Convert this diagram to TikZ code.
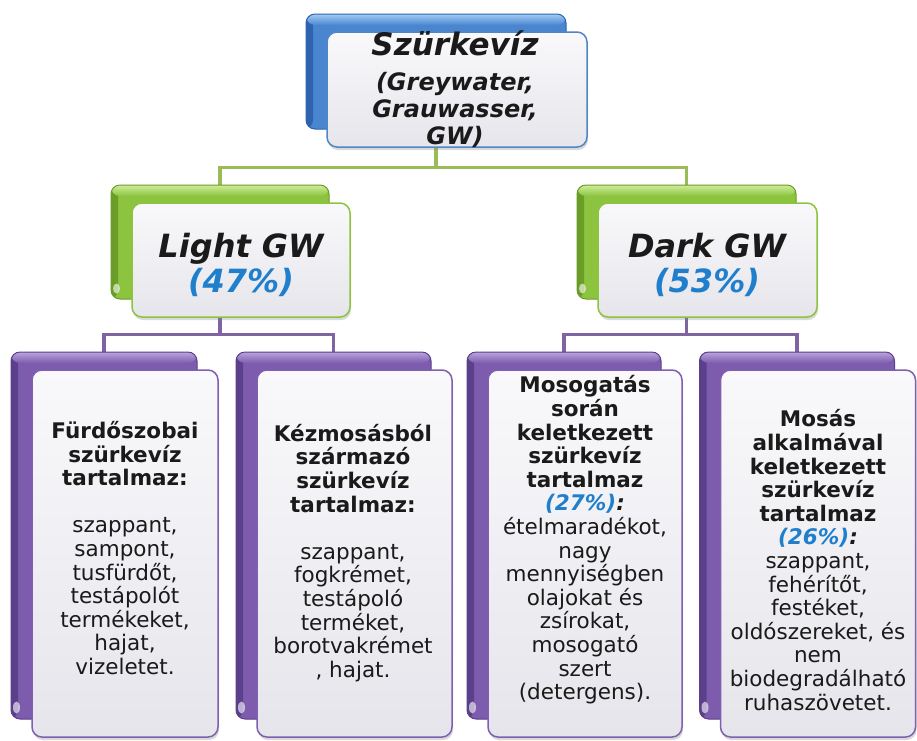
\documentclass[tikz,border=0pt]{standalone}
\usepackage{fontspec}
\setmainfont{DejaVu Sans}
\usetikzlibrary{shadows,calc,backgrounds}
\definecolor{blueL}{HTML}{A2CCF3}
\definecolor{blueM}{HTML}{4A86D0}
\definecolor{blueD}{HTML}{2E62AE}
\definecolor{blueB}{HTML}{4F86C6}
\definecolor{greenL}{HTML}{D0EE9A}
\definecolor{greenM}{HTML}{8CC43F}
\definecolor{greenD}{HTML}{6A9C28}
\definecolor{greenB}{HTML}{8CC43F}
\definecolor{greenLine}{HTML}{9BBB59}
\definecolor{purpL}{HTML}{BBA3DE}
\definecolor{purpM}{HTML}{7D5CAE}
\definecolor{purpD}{HTML}{5A3F8A}
\definecolor{purpB}{HTML}{7E5FB0}
\definecolor{purpLine}{HTML}{8064A2}
\definecolor{frontT}{HTML}{F9F9FB}
\definecolor{frontB}{HTML}{E6E5EB}
\definecolor{pct}{HTML}{1F7FCC}
\definecolor{txt}{HTML}{1A1A1A}
\begin{document}
\begin{tikzpicture}[x=1pt,y=-1pt,
  backbox/.style n args={3}{rounded corners=9pt, line width=1pt, inner sep=0pt,
    draw=#3, fill=#2,
    path picture={
      \shade[left color=#3, right color=#2]
        (path picture bounding box.north west) rectangle
        ([xshift=7pt]path picture bounding box.south west);
      \shade[top color=#1, bottom color=#2]
        (path picture bounding box.north west) rectangle
        ([yshift=-11pt]path picture bounding box.north east);
    }},
  bluetab/.style={backbox={blueL}{blueM}{blueD}},
  greentab/.style={backbox={greenL}{greenM}{greenD}},
  purptab/.style={backbox={purpL}{purpM}{purpD}},
  frontbox/.style={rounded corners=10pt, line width=1.5pt, inner sep=0pt,
    top color=frontT, bottom color=frontB,
    drop shadow={shadow xshift=1pt, shadow yshift=-3pt, opacity=0.3}},
  gline/.style={draw=greenLine, line width=3.5pt},
  pline/.style={draw=purpLine, line width=3.5pt},
  curl/.style={fill=white, opacity=0.6},
  roottitle/.style={font=\fontsize{31}{35}\selectfont\bfseries\itshape, text=txt, inner sep=0pt},
  rootsub/.style={font=\fontsize{24}{27}\selectfont\bfseries\itshape, text=txt, inner sep=0pt, align=center},
  midtitle/.style={font=\fontsize{32}{35}\selectfont\bfseries\itshape, text=txt, inner sep=0pt},
  midpct/.style={font=\fontsize{32}{35}\selectfont\bfseries\itshape, text=pct, inner sep=0pt},
  leaftext/.style={font=\fontsize{21.5}{23.6}\selectfont, text=txt, inner sep=0pt, align=center}
]
\useasboundingbox (0,0) rectangle (917,740);

% root
\node[bluetab, minimum width=260pt, minimum height=115pt] (rootback) at (436,71.5) {};
\node[frontbox, draw=blueB, minimum width=260pt, minimum height=115pt] (root) at (457,89.5) {};
\node[roottitle, anchor=base] (roottxt) at (455,55) {Szürkevíz};
\node[rootsub] (rootsubtxt) at (455,110) {(Greywater,\\Grauwasser,\\GW)};

% level 2
\node[greentab, minimum width=218pt, minimum height=114pt] (lightback) at (220,242) {};
\fill[curl] ($(lightback.south west)+(6,-11)$) ellipse [x radius=3.5pt, y radius=5pt];
\node[frontbox, draw=greenB, minimum width=218pt, minimum height=114pt] (light) at (241,260) {};
\node[midtitle, anchor=base] (lighttxt) at (241,257) {Light GW};
\node[midpct, anchor=base] (lightpct) at (241,292) {(47\%)};

\node[greentab, minimum width=219pt, minimum height=114pt] (darkback) at (686.5,242) {};
\fill[curl] ($(darkback.south west)+(6,-11)$) ellipse [x radius=3.5pt, y radius=5pt];
\node[frontbox, draw=greenB, minimum width=219pt, minimum height=114pt] (dark) at (707.5,260) {};
\node[midtitle, anchor=base] (darktxt) at (707,257) {Dark GW};
\node[midpct, anchor=base] (darkpct) at (707,292) {(53\%)};

% leaves
\node[purptab, minimum width=186pt, minimum height=367pt] (b1back) at (104,535.5) {};
\fill[curl] ($(b1back.south west)+(6,-12)$) ellipse [x radius=3.5pt, y radius=6pt];
\node[frontbox, draw=purpB, minimum width=186pt, minimum height=367pt] (b1) at (125,553.5) {};
\node[leaftext] (b1txt) at (125,548) {\textbf{Fürdőszobai}\\\textbf{szürkevíz}\\\textbf{tartalmaz:}\\[23.6pt]szappant,\\sampont,\\tusfürdőt,\\testápolót\\termékeket,\\hajat,\\vizeletet.};

\node[purptab, minimum width=195pt, minimum height=367pt] (b2back) at (333.5,535.5) {};
\fill[curl] ($(b2back.south west)+(6,-12)$) ellipse [x radius=3.5pt, y radius=6pt];
\node[frontbox, draw=purpB, minimum width=195pt, minimum height=367pt] (b2) at (354.5,553.5) {};
\node[leaftext] (b2txt) at (353,553) {\textbf{Kézmosásból}\\\textbf{származó}\\\textbf{szürkevíz}\\\textbf{tartalmaz:}\\[23.6pt]szappant,\\fogkrémet,\\testápoló\\terméket,\\borotvakrémet\\, hajat.};

\node[purptab, minimum width=194pt, minimum height=367pt] (b3back) at (564,535.5) {};
\fill[curl] ($(b3back.south west)+(6,-12)$) ellipse [x radius=3.5pt, y radius=6pt];
\node[frontbox, draw=purpB, minimum width=194pt, minimum height=367pt] (b3) at (585,553.5) {};
\node[leaftext] (b3txt) at (585,540) {\textbf{Mosogatás}\\\textbf{során}\\\textbf{keletkezett}\\\textbf{szürkevíz}\\\textbf{tartalmaz}\\\textcolor{pct}{\textbf{\textit{(27\%)}}}\textbf{\textit{:}}\\ételmaradékot,\\nagy\\mennyiségben\\olajokat és\\zsírokat,\\mosogató\\szert\\(detergens).};

\node[purptab, minimum width=195pt, minimum height=367pt] (b4back) at (797,535.5) {};
\fill[curl] ($(b4back.south west)+(6,-12)$) ellipse [x radius=3.5pt, y radius=6pt];
\node[frontbox, draw=purpB, minimum width=195pt, minimum height=367pt] (b4) at (818,553.5) {};
\node[leaftext] (b4txt) at (818,560) {\textbf{Mosás}\\\textbf{alkalmával}\\\textbf{keletkezett}\\\textbf{szürkevíz}\\\textbf{tartalmaz}\\\textcolor{pct}{\textbf{\textit{(26\%)}}}\textbf{\textit{:}}\\szappant,\\fehérítőt,\\festéket,\\oldószereket, és\\nem\\biodegradálható\\ruhaszövetet.};

% connectors
\begin{scope}[on background layer]
\draw[gline] (rootback.south) -- ++(0,38) coordinate (gj) -| (lightback.north);
\draw[gline] (gj) -| (darkback.north);
\draw[pline] (lightback.south) -- ++(0,35) coordinate (pj1) -| (b1back.north);
\draw[pline] (pj1) -| (b2back.north);
\draw[pline] (darkback.south) -- ++(0,35) coordinate (pj2) -| (b3back.north);
\draw[pline] (pj2) -| (b4back.north);
\end{scope}
\end{tikzpicture}
\end{document}
